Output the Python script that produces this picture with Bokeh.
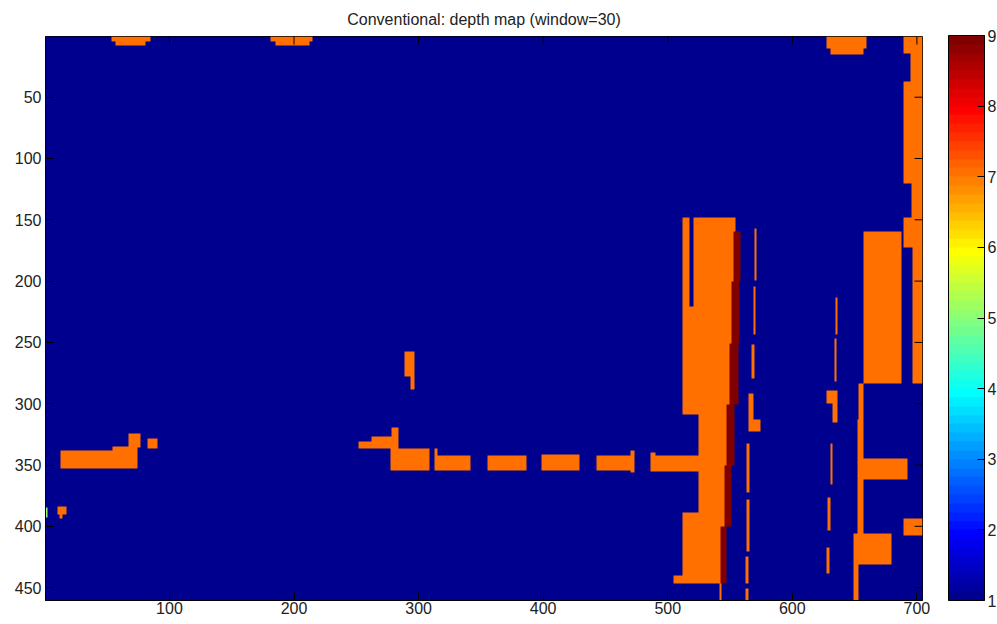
import numpy as np
from bokeh.plotting import figure
from bokeh.models import LinearColorMapper, ColorBar, FixedTicker, Range1d
from bokeh.embed import file_html
from bokeh.resources import INLINE

# ---------------- data ----------------
TITLE = "Conventional: depth map (window=30)"
IMG_W = 704
IMG_H = 460
DEPTH_LOW = 1
DEPTH_HIGH = 9
X_TICKS = [100, 200, 300, 400, 500, 600, 700]
Y_TICKS = [50, 100, 150, 200, 250, 300, 350, 400, 450]
CBAR_TICKS = [1, 2, 3, 4, 5, 6, 7, 8, 9]

BACKGROUND_DEPTH = 1
ORANGE_DEPTH = 7
DARKRED_DEPTH = 9
GREEN_DEPTH = 5

# regions of the depth map, in image pixels: (x0, x1, y0, y1)
ORANGE_REGIONS = [
    # top edge blobs
    (53, 84, 0, 4), (56, 80, 4, 7),
    (181, 214, 0, 4), (185, 212, 4, 7),
    (627, 659, 0, 10), (630, 657, 10, 15),
    # right strip and right block
    (689, 705, 0, 283),
    (657, 687, 159, 283),
    # lower right structure
    (653, 657, 283, 312), (652, 657, 312, 405), (652, 692, 344, 361),
    (689, 705, 393, 407), (649, 679, 405, 431), (649, 653, 431, 460),
    # big column (left part)
    (511, 517, 148, 226), (520, 540, 148, 220), (511, 540, 220, 308),
    (524, 540, 308, 388), (511, 540, 388, 440), (504, 540, 440, 446),
    # big column (right part, up to the dark red band)
    (540, 554, 148, 159), (540, 552, 159, 200), (540, 551, 200, 250),
    (540, 549, 250, 300), (540, 547, 300, 350), (540, 545, 350, 400),
    (540, 542, 400, 446),
    (486, 524, 342, 355), (486, 490, 339, 342),
    (541, 543, 446, 460),
    # thin line near x=570
    (569, 571, 157, 199), (568, 570, 204, 243), (567, 569, 251, 279),
    (564, 568, 291, 322), (568, 574, 312, 322), (563, 565, 332, 372),
    (563, 565, 378, 420), (562, 564, 424, 446), (562, 564, 450, 460),
    # thin line near x=633
    (634, 636, 213, 243), (633, 635, 246, 281), (627, 636, 289, 299),
    (632, 636, 299, 315), (630, 632, 332, 365), (628, 630, 376, 403),
    (627, 629, 417, 438),
    # left blobs
    (12, 72, 338, 352), (54, 72, 334, 338), (67, 74, 328, 352),
    (67, 76, 324, 335), (82, 90, 328, 336),
    (10, 17, 383, 390), (11, 14, 390, 393),
    # middle blobs and dashed bar
    (288, 296, 257, 277), (293, 296, 277, 288),
    (251, 262, 330, 336), (262, 280, 326, 336), (278, 283, 319, 336),
    (277, 308, 336, 354),
    (312, 341, 342, 354), (312, 315, 336, 342),
    (355, 386, 342, 354),
    (398, 429, 341, 354),
    (442, 473, 342, 354), (470, 473, 338, 356),
]

DARKRED_REGIONS = [
    (552, 558, 159, 200), (551, 557, 200, 250), (549, 556, 250, 300),
    (547, 553, 300, 350), (545, 551, 350, 400), (542, 547, 400, 446),
]

BLUE_REGIONS = [
    (689, 694, 14, 37), (689, 695, 120, 148), (689, 696, 172, 283),
]

GREEN_REGIONS = [
    (0, 2, 384, 392),
]


def jet(n=64):
    m = n // 4
    u = np.concatenate([np.arange(1, m + 1) / m, np.ones(m - 1), np.arange(m, 0, -1) / m])
    g = int(np.ceil(m / 2)) - (1 if n % 4 == 1 else 0) + np.arange(1, len(u) + 1)
    r = g + m
    b = g - m
    J = np.zeros((n, 3))
    ok = r <= n
    J[r[ok] - 1, 0] = u[ok]
    ok = (g >= 1) & (g <= n)
    J[g[ok] - 1, 1] = u[ok]
    ok = b >= 1
    J[b[ok] - 1, 2] = u[ok]
    return ["#%02x%02x%02x" % tuple(int(round(c * 255)) for c in row) for row in J]


depth = np.full((IMG_H, IMG_W), float(BACKGROUND_DEPTH))


def paint(regions, val):
    for x0, x1, y0, y1 in regions:
        depth[max(0, y0):min(IMG_H, y1), max(0, x0):min(IMG_W, x1)] = val


paint(ORANGE_REGIONS, ORANGE_DEPTH)
paint(DARKRED_REGIONS, DARKRED_DEPTH)
paint(BLUE_REGIONS, BACKGROUND_DEPTH)
paint(GREEN_REGIONS, GREEN_DEPTH)

FONT = "Liberation Sans"
FRAME_W = 877
FRAME_H = 565

mapper = LinearColorMapper(palette=jet(64), low=DEPTH_LOW, high=DEPTH_HIGH)

p = figure(width=997, height=624,
           x_range=Range1d(0.5, IMG_W + 0.5), y_range=Range1d(IMG_H + 0.5, 0.5),
           output_backend="svg", toolbar_location=None, title=TITLE,
           min_border_left=45, min_border_top=35, min_border_right=75, min_border_bottom=24)

p.image(image=[depth], x=0.5, y=0.5, dw=IMG_W, dh=IMG_H, color_mapper=mapper)

# inward ticks on top and right edges of the box
p.scatter(x=X_TICKS, y=[0.5] * len(X_TICKS), marker="dash", size=16, angle=np.pi / 2,
          line_color="black", line_width=1)
p.scatter(x=[IMG_W + 0.5] * len(Y_TICKS), y=Y_TICKS, marker="dash", size=16,
          line_color="black", line_width=1)

p.grid.visible = False
p.outline_line_color = "black"
p.background_fill_color = "white"

for ax, ticks in ((p.xaxis[0], X_TICKS), (p.yaxis[0], Y_TICKS)):
    ax.ticker = FixedTicker(ticks=ticks)
    ax.major_tick_in = 8
    ax.major_tick_out = 0
    ax.minor_tick_line_color = None
    ax.major_label_text_font = FONT
    ax.major_label_text_font_size = "16px"
    ax.major_label_text_color = "#222222"
    ax.axis_line_color = "black"
    ax.major_tick_line_color = "black"
p.xaxis.major_label_standoff = 1
p.yaxis.major_label_standoff = 4

p.title.text_font = FONT
p.title.text_font_size = "16px"
p.title.text_font_style = "normal"
p.title.text_color = "#222222"
p.title.align = "center"
p.title.standoff = 17

cb = ColorBar(color_mapper=mapper, ticker=FixedTicker(ticks=CBAR_TICKS),
              location=(903, 0), width=36, height=FRAME_H, padding=0, margin=0,
              major_tick_in=7, major_tick_out=0, major_tick_line_color="black",
              bar_line_color="black", label_standoff=3,
              major_label_text_font=FONT, major_label_text_font_size="16px",
              major_label_text_color="#222222",
              background_fill_color=None, border_line_color=None)
p.add_layout(cb, "center")

open("out.html", "w").write(file_html(p, INLINE))
